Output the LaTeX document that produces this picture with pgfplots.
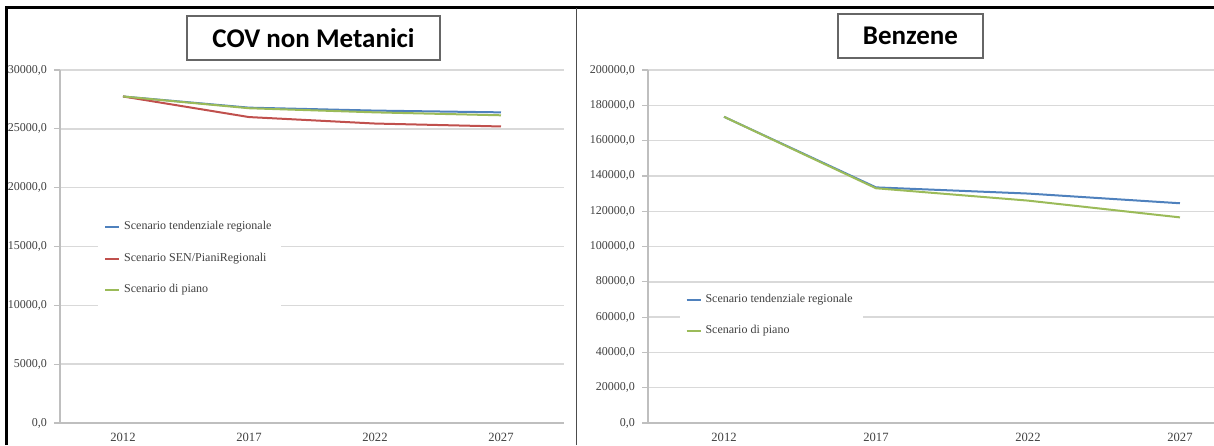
\documentclass[border=0pt]{standalone}
\usepackage{fontspec}
\setmainfont{Liberation Serif}
\newfontfamily\titlefont{Carlito}
\usepackage{pgfplots}
\pgfplotsset{compat=1.18}
\definecolor{sblue}{HTML}{4F81BD}
\definecolor{sred}{HTML}{C0504D}
\definecolor{sgreen}{HTML}{9BBB59}
\definecolor{gridc}{HTML}{D9D9D9}
\definecolor{axc}{HTML}{BFBFBF}
\definecolor{txt}{HTML}{404040}
\begin{document}
\begin{tikzpicture}
\path[use as bounding box] (0,0) rectangle (607pt,222.5pt);
\pgfplotsset{common/.style={
  scale only axis, anchor=south west,
  axis x line=bottom, axis y line=left,
  axis line style={-, draw=axc, line width=0.6pt},
  xtick={0,1,2,3}, xticklabels={2012,2017,2022,2027},
  xtick style={draw=none},
  ytick style={draw=axc, line width=0.6pt},
  major tick length=3pt, tick align=outside,
  ymajorgrids, grid style={draw=gridc, line width=0.7pt},
  xticklabel style={font=\fontsize{6.3}{7}\selectfont, text=txt, yshift=1.5pt},
  yticklabel style={font=\fontsize{6}{7}\selectfont, text=txt},
  scaled y ticks=false,
  /pgf/number format/.cd, fixed, fixed zerofill, precision=1, use comma, 1000 sep={}, assume math mode=true,
  /pgfplots/.cd,
  legend cell align=left,
  legend image code/.code={\draw[#1] (0pt,0pt) -- (7pt,0pt);},
  legend style={draw=none, fill=white, font=\fontsize{6}{7}\selectfont, text=txt, row sep=6pt, inner sep=3pt},
  every axis plot/.append style={line width=1pt},
}}
\begin{axis}[common, at={(30pt,11pt)}, width=252pt, height=176.5pt,
  xmin=-0.5, xmax=3.5, ymin=0, ymax=30000, ytick={0,5000,...,30000},
  legend style={at={(0.075,0.60)}, anchor=north west}]
\addplot[sblue, no marks] coordinates {(0,27750) (1,26800) (2,26550) (3,26400)};
\addlegendentry{Scenario tendenziale regionale}
\addplot[sred, no marks] coordinates {(0,27750) (1,26000) (2,25450) (3,25200)};
\addlegendentry{Scenario SEN/PianiRegionali}
\addplot[sgreen, no marks] coordinates {(0,27750) (1,26750) (2,26400) (3,26150)};
\addlegendentry{Scenario di piano}
\end{axis}
\begin{axis}[common, at={(324pt,11pt)}, width=283pt, height=176.5pt,
  xmin=-0.5, xmax=3.224, ymin=0, ymax=200000, ytick={0,20000,...,200000},
  legend style={at={(0.055,0.395)}, anchor=north west}]
\addplot[sblue, no marks] coordinates {(0,173500) (1,133500) (2,130000) (3,124500)};
\addlegendentry{Scenario tendenziale regionale}
\addplot[sgreen, no marks] coordinates {(0,173500) (1,133000) (2,126000) (3,116500)};
\addlegendentry{Scenario di piano}
\end{axis}
\node[draw=gray!80!black, line width=0.6pt, fill=white, minimum width=126.5pt, minimum height=22pt, inner sep=0pt,
  font=\titlefont\bfseries\fontsize{13.5}{16}\selectfont] at (156.75pt,203.5pt) {COV non Metanici};
\node[draw=gray!80!black, line width=0.6pt, fill=white, minimum width=72.5pt, minimum height=22pt, inner sep=0pt,
  font=\titlefont\bfseries\fontsize{13.5}{16}\selectfont] at (455.25pt,204.5pt) {Benzene};
\draw[black, line width=1.5pt] (3pt,0pt) -- (3pt,218.5pt) -- (607pt,218.5pt);
\draw[black!70, line width=0.5pt] (288pt,0pt) -- (288pt,218.5pt);
\end{tikzpicture}
\end{document}
